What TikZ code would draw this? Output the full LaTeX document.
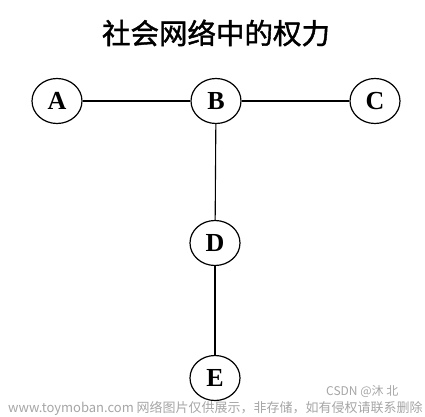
\documentclass[tikz,border=0pt]{standalone}
\usepackage{fontspec}
\setmainfont{Liberation Serif}
\newfontfamily\cjk{Noto Sans CJK SC}
\newfontfamily\cjkb{Noto Sans CJK SC}[FakeBold=1.5]
\usetikzlibrary{shapes.geometric}
\begin{document}
\begin{tikzpicture}[x=1pt,y=-1pt,
  vert/.style={ellipse,draw,line width=1.2pt,minimum width=50pt,minimum height=45pt,inner sep=0pt,font=\fontsize{26}{26}\selectfont\bfseries},
  edge/.style={line width=1.1pt},
  wm/.style={text=black!35,inner sep=0pt}]
\useasboundingbox (0,0) rectangle (425,416);
\fill[white] (0,0) rectangle (425,416);
\node[inner sep=0pt,font=\cjkb\fontsize{28.5}{28.5}\selectfont] (title) at (216,33) {社会网络中的权力};
\node[vert] (A) at (57,101) {A};
\node[vert] (B) at (216,101) {B};
\node[vert] (C) at (375,101) {C};
\node[vert] (D) at (215,243) {D};
\node[vert] (E) at (215,378) {E};
\draw[edge] (A) -- (B);
\draw[edge] (B) -- (C);
\draw[edge] (B) -- (D);
\draw[edge] (D) -- (E);
\node[wm,anchor=west,font=\cjk\fontsize{13}{13}\selectfont] (wm1) at (8,408) {www.toymoban.com 网络图片仅供展示，非存储，如有侵权请联系删除};
\node[wm,anchor=west,font=\cjk\fontsize{12}{12}\selectfont] (wm2) at (326,392) {CSDN @沐 北};
\end{tikzpicture}
\end{document}
